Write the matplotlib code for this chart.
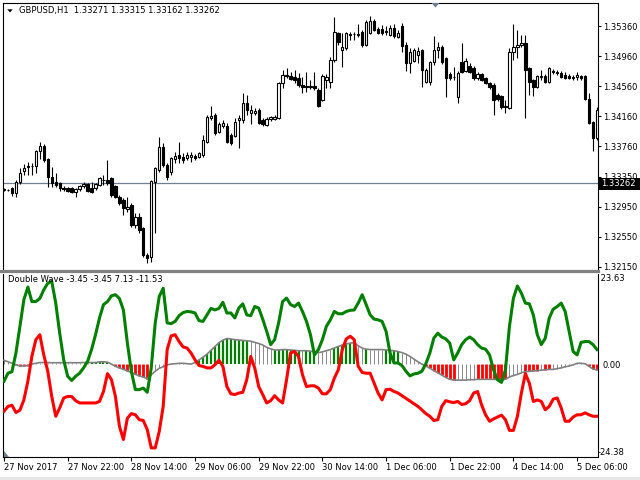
import matplotlib
matplotlib.use('Agg')
import matplotlib.pyplot as plt
from matplotlib.patches import Polygon, Rectangle
from matplotlib.lines import Line2D
import numpy as np

plt.rcParams['font.family'] = ['DejaVu Sans']

# ---------------- data ----------------
symbol_title = "GBPUSD,H1  1.33271 1.33315 1.33162 1.33262"
ind_title = "Double Wave -3.45 -3.45 7.13 -11.53"
last_price = 1.33262
ind_max, ind_min = 23.63, -24.38

opens = [
    1.3318, 1.3318, 1.3320, 1.3314, 1.3328, 1.3343, 1.3348, 1.3350, 1.3350, 1.3370,
    1.3376, 1.3359, 1.3335, 1.3328, 1.3327, 1.3320, 1.3320, 1.3320, 1.3315, 1.3319,
    1.3323, 1.3326, 1.3320, 1.3320, 1.3324, 1.3331, 1.3331, 1.3334, 1.3323, 1.3308,
    1.3304, 1.3292, 1.3298, 1.3271, 1.3282, 1.3267, 1.3231, 1.3228, 1.3328, 1.3344,
    1.3375, 1.3351, 1.3342, 1.3359, 1.3364, 1.3362, 1.3360, 1.3362, 1.3363, 1.3362,
    1.3364, 1.3382, 1.3414, 1.3418, 1.3395, 1.3403, 1.3403, 1.3391, 1.3390, 1.3411,
    1.3411, 1.3434, 1.3420, 1.3420, 1.3424, 1.3411, 1.3404, 1.3412, 1.3412, 1.3414,
    1.3460, 1.3471, 1.3470, 1.3468, 1.3467, 1.3458, 1.3456, 1.3455, 1.3456, 1.3451,
    1.3438, 1.3464, 1.3462, 1.3491, 1.3527, 1.3504, 1.3507, 1.3524, 1.3526, 1.3526,
    1.3528, 1.3511, 1.3527, 1.3543, 1.3532, 1.3532, 1.3528, 1.3524, 1.3534, 1.3522,
    1.3536, 1.3511, 1.3487, 1.3490, 1.3498, 1.3504, 1.3462, 1.3462, 1.3488, 1.3504,
    1.3508, 1.3494, 1.3472, 1.3468, 1.3442, 1.3488, 1.3476, 1.3483, 1.3480, 1.3467,
    1.3472, 1.3467, 1.3460, 1.3458, 1.3444, 1.3443, 1.3428, 1.3427, 1.3502, 1.3508,
    1.3511, 1.3514, 1.3480, 1.3464, 1.3455, 1.3468, 1.3470, 1.3462, 1.3476, 1.3475,
    1.3474, 1.3471, 1.3470, 1.3467, 1.3468, 1.3470, 1.3470, 1.3439, 1.3408, 1.3387]

highs = [
    1.3320, 1.3319, 1.3322, 1.3331, 1.3347, 1.3352, 1.3355, 1.3354, 1.3371, 1.3382,
    1.3379, 1.3360, 1.3348, 1.3340, 1.3328, 1.3323, 1.3322, 1.3322, 1.3320, 1.3324,
    1.3328, 1.3327, 1.3328, 1.3327, 1.3335, 1.3338, 1.3358, 1.3335, 1.3324, 1.3311,
    1.3307, 1.3308, 1.3300, 1.3287, 1.3287, 1.3268, 1.3234, 1.3331, 1.3348, 1.3388,
    1.3380, 1.3354, 1.3362, 1.3368, 1.3382, 1.3367, 1.3368, 1.3368, 1.3366, 1.3368,
    1.3391, 1.3418, 1.3430, 1.3420, 1.3408, 1.3411, 1.3407, 1.3394, 1.3414, 1.3418,
    1.3447, 1.3444, 1.3431, 1.3427, 1.3427, 1.3414, 1.3415, 1.3416, 1.3418, 1.3462,
    1.3478, 1.3480, 1.3475, 1.3478, 1.3474, 1.3468, 1.3475, 1.3464, 1.3475, 1.3454,
    1.3472, 1.3472, 1.3495, 1.3548, 1.3528, 1.3527, 1.3528, 1.3528, 1.3528, 1.3539,
    1.3531, 1.3544, 1.3550, 1.3546, 1.3535, 1.3538, 1.3536, 1.3538, 1.3539, 1.3531,
    1.3540, 1.3515, 1.3507, 1.3507, 1.3508, 1.3506, 1.3480, 1.3490, 1.3523, 1.3515,
    1.3511, 1.3495, 1.3475, 1.3482, 1.3476, 1.3514, 1.3494, 1.3487, 1.3483, 1.3475,
    1.3474, 1.3468, 1.3462, 1.3460, 1.3447, 1.3444, 1.3438, 1.3507, 1.3539, 1.3531,
    1.3524, 1.3524, 1.3482, 1.3466, 1.3471, 1.3478, 1.3472, 1.3482, 1.3479, 1.3478,
    1.3476, 1.3475, 1.3472, 1.3471, 1.3475, 1.3471, 1.3471, 1.3447, 1.3410, 1.3428]

lows = [
    1.3316, 1.3316, 1.3310, 1.3308, 1.3326, 1.3338, 1.3338, 1.3338, 1.3340, 1.3359,
    1.3355, 1.3322, 1.3322, 1.3322, 1.3316, 1.3316, 1.3315, 1.3314, 1.3308, 1.3316,
    1.3320, 1.3315, 1.3314, 1.3318, 1.3323, 1.3324, 1.3324, 1.3308, 1.3307, 1.3298,
    1.3284, 1.3288, 1.3268, 1.3267, 1.3260, 1.3228, 1.3220, 1.3222, 1.3260, 1.3342,
    1.3348, 1.3331, 1.3338, 1.3354, 1.3354, 1.3354, 1.3358, 1.3355, 1.3358, 1.3360,
    1.3362, 1.3380, 1.3411, 1.3391, 1.3394, 1.3400, 1.3380, 1.3378, 1.3388, 1.3374,
    1.3407, 1.3418, 1.3406, 1.3418, 1.3406, 1.3403, 1.3403, 1.3410, 1.3411, 1.3412,
    1.3454, 1.3467, 1.3464, 1.3460, 1.3455, 1.3447, 1.3448, 1.3452, 1.3451, 1.3428,
    1.3436, 1.3454, 1.3454, 1.3488, 1.3511, 1.3482, 1.3504, 1.3518, 1.3518, 1.3522,
    1.3508, 1.3510, 1.3526, 1.3530, 1.3526, 1.3524, 1.3524, 1.3523, 1.3520, 1.3520,
    1.3502, 1.3476, 1.3474, 1.3488, 1.3487, 1.3455, 1.3460, 1.3458, 1.3484, 1.3494,
    1.3486, 1.3442, 1.3464, 1.3464, 1.3434, 1.3474, 1.3475, 1.3474, 1.3464, 1.3464,
    1.3463, 1.3459, 1.3452, 1.3418, 1.3436, 1.3426, 1.3420, 1.3426, 1.3491, 1.3494,
    1.3508, 1.3414, 1.3444, 1.3443, 1.3454, 1.3464, 1.3460, 1.3460, 1.3472, 1.3471,
    1.3467, 1.3466, 1.3466, 1.3464, 1.3464, 1.3464, 1.3438, 1.3406, 1.3369, 1.3384]

closes = [
    1.3319, 1.3318, 1.3314, 1.3328, 1.3340, 1.3347, 1.3350, 1.3350, 1.3370, 1.3376,
    1.3358, 1.3335, 1.3327, 1.3324, 1.3320, 1.3319, 1.3316, 1.3315, 1.3319, 1.3323,
    1.3326, 1.3316, 1.3315, 1.3326, 1.3334, 1.3331, 1.3327, 1.3311, 1.3308, 1.3300,
    1.3294, 1.3295, 1.3271, 1.3282, 1.3264, 1.3231, 1.3227, 1.3330, 1.3347, 1.3375,
    1.3351, 1.3335, 1.3360, 1.3363, 1.3360, 1.3358, 1.3364, 1.3364, 1.3360, 1.3367,
    1.3384, 1.3415, 1.3416, 1.3394, 1.3406, 1.3407, 1.3382, 1.3380, 1.3408, 1.3414,
    1.3434, 1.3424, 1.3424, 1.3423, 1.3407, 1.3406, 1.3412, 1.3415, 1.3415, 1.3460,
    1.3471, 1.3470, 1.3466, 1.3464, 1.3458, 1.3455, 1.3455, 1.3456, 1.3454, 1.3430,
    1.3470, 1.3468, 1.3491, 1.3528, 1.3515, 1.3508, 1.3527, 1.3526, 1.3526, 1.3524,
    1.3511, 1.3542, 1.3543, 1.3531, 1.3527, 1.3527, 1.3530, 1.3534, 1.3523, 1.3527,
    1.3510, 1.3487, 1.3502, 1.3504, 1.3503, 1.3478, 1.3478, 1.3488, 1.3504, 1.3508,
    1.3488, 1.3467, 1.3467, 1.3468, 1.3474, 1.3475, 1.3490, 1.3475, 1.3467, 1.3472,
    1.3464, 1.3460, 1.3455, 1.3438, 1.3439, 1.3428, 1.3430, 1.3502, 1.3508, 1.3511,
    1.3514, 1.3478, 1.3462, 1.3455, 1.3470, 1.3470, 1.3462, 1.3480, 1.3475, 1.3474,
    1.3468, 1.3467, 1.3467, 1.3468, 1.3471, 1.3467, 1.3439, 1.3407, 1.3387, 1.3424]

green_wave = [
    -4.5, -2.4, -2.0, 2.9, 9.9, 16.9, 20.2, 16.4, 16.4, 17.2,
    19.5, 21.2, 21.7, 16.0, 8.1, 1.1, -3.2, -4.3, -3.2, -2.4,
    -1.0, 0.7, 3.8, 7.7, 12.1, 15.6, 16.4, 17.9, 18.2, 17.2,
    14.2, 5.5, -1.9, -6.7, -6.7, -6.3, -7.4, -1.0, 10.8, 17.7,
    19.9, 10.8, 10.6, 11.2, 12.7, 13.5, 13.8, 13.7, 13.4, 11.4,
    11.2, 12.9, 14.6, 14.2, 14.6, 16.2, 13.4, 13.4, 12.1, 14.7,
    15.8, 12.9, 12.7, 15.1, 14.7, 11.8, 8.6, 5.1, 6.4, 10.8,
    16.4, 17.3, 15.6, 15.1, 16.0, 13.8, 11.2, 7.7, 2.4, 3.8,
    6.4, 9.9, 11.6, 13.8, 13.2, 13.2, 13.8, 14.1, 14.2, 16.0,
    18.2, 15.6, 12.9, 11.8, 11.6, 11.2, 8.6, 2.9, 0.3, 0.3,
    -0.4, -1.9, -3.1, -2.6, -2.4, -1.9, 0.1, 2.9, 6.8, 8.1,
    7.1, 6.6, 5.5, 1.1, 2.9, 5.1, 6.4, 7.1, 6.4, 5.1,
    4.2, 3.9, 2.4, -1.5, -4.1, -4.8, -1.5, 9.9, 17.3, 20.5,
    18.6, 16.0, 15.8, 12.9, 7.7, 5.1, 6.8, 12.1, 14.4, 15.1,
    16.0, 13.8, 8.6, 3.3, 2.4, 5.7, 5.9, 5.9, 5.1, 3.8]

red_wave = [
    -12.4, -11.1, -10.8, -12.7, -12.1, -9.4, -4.5, 2.0, 6.4, 7.7,
    2.4, -1.9, -8.5, -13.7, -11.5, -8.9, -8.5, -8.5, -9.6, -10.2,
    -10.2, -10.2, -10.2, -10.2, -9.8, -7.2, -2.5, -4.1, -8.5, -16.3,
    -19.8, -14.2, -13.0, -13.3, -14.6, -14.8, -17.2, -22.0, -22.0, -17.7,
    -11.1, 3.8, 7.4, 7.7, 5.9, 4.5, 4.2, 2.9, 1.1, -0.4,
    -0.6, -1.0, -1.0, -0.2, 1.0, -0.6, -5.9, -7.8, -8.0, -7.6,
    -7.4, -4.1, 2.0, -1.0, -5.9, -8.0, -10.2, -9.6, -8.3, -9.4,
    -10.2, -4.1, 2.9, 3.3, 2.0, -2.8, -5.9, -5.7, -5.7, -6.3,
    -7.8, -7.8, -6.7, -3.7, -1.5, 3.8, 6.6, 7.3, 6.4, -0.6,
    -2.2, -2.4, -2.4, -5.0, -7.6, -9.4, -6.7, -6.6, -7.2, -7.6,
    -8.3, -9.0, -9.7, -10.4, -11.1, -12.0, -13.0, -13.7, -14.8, -14.6,
    -11.1, -9.6, -9.9, -10.1, -9.8, -10.6, -10.4, -9.6, -7.6, -7.2,
    -10.7, -13.3, -15.0, -14.4, -13.9, -13.4, -14.6, -17.4, -17.4, -13.7,
    -7.6, -2.5, -5.0, -9.8, -9.4, -9.8, -12.0, -11.1, -9.2, -8.9,
    -11.5, -15.0, -15.0, -13.9, -13.3, -13.3, -12.8, -13.3, -13.7, -13.7]

signal = [
    1.0, 0.6, 0.2, -0.2, -0.5, -0.5, -0.4, 0.0, 0.2, 0.4,
    0.4, 0.4, 0.35, 0.35, 0.35, 0.35, 0.35, 0.35, 0.35, 0.35,
    0.4, 0.4, 0.4, 0.4, 0.6, 0.6, 0.5, 0.0, -0.6, -1.0,
    -1.4, -1.8, -2.2, -2.7, -3.1, -3.4, -3.9, -2.8, -1.9, -1.1,
    -0.7, -0.2, 0.0, 0.1, 0.2, 0.2, 0.1, 0.0, 0.4, 1.1,
    1.8, 2.6, 3.6, 4.6, 5.6, 6.3, 6.7, 6.6, 6.4, 6.3,
    6.2, 6.1, 6.0, 5.7, 5.4, 5.0, 4.4, 4.0, 3.7, 3.7,
    3.8, 3.8, 3.7, 3.6, 3.5, 3.5, 3.5, 3.4, 3.2, 3.0,
    3.2, 3.5, 3.8, 4.2, 4.6, 5.0, 5.3, 5.5, 5.6, 4.8,
    4.2, 3.9, 3.8, 3.8, 3.8, 3.8, 3.7, 3.6, 3.5, 3.3,
    3.0, 2.6, 2.0, 1.3, 0.6, 0.0, -0.5, -1.1, -1.7, -2.3,
    -2.9, -3.5, -4.0, -4.2, -4.2, -4.2, -4.2, -4.1, -4.1, -4.0,
    -4.0, -4.0, -4.0, -4.0, -4.1, -4.2, -4.0, -3.4, -3.0, -2.7,
    -2.3, -2.0, -1.9, -1.8, -1.7, -1.6, -1.5, -1.4, -1.4, -1.2,
    -1.0, -0.7, -0.5, -0.2, 0.2, 0.2, 0.1, -0.6, -1.3, -1.5]

# histogram colour state per bar: n = neutral, g = up, r = down (runs)
hist_runs = [('n', 3), ('r', 5), ('n', 14), ('g', 5), ('n', 1), ('r', 9),
             ('n', 12), ('g', 13), ('n', 6), ('g', 7), ('n', 1), ('g', 3),
             ('n', 4), ('g', 6), ('n', 2), ('g', 1), ('n', 4), ('g', 4),
             ('n', 5), ('r', 9), ('n', 5), ('r', 8), ('n', 4), ('r', 4),
             ('n', 1), ('r', 2), ('n', 9), ('r', 3)]

time_ticks = [0, 16, 32, 48, 64, 80, 96, 112, 128, 144]
time_labels = ["27 Nov 2017", "27 Nov 22:00", "28 Nov 14:00", "29 Nov 06:00",
               "29 Nov 22:00", "30 Nov 14:00", "1 Dec 06:00", "1 Dec 22:00",
               "4 Dec 14:00", "5 Dec 06:00"]
price_ticks = [1.35360, 1.34960, 1.34560, 1.34160, 1.33760, 1.33350,
               1.32950, 1.32550, 1.32150]

# ---------------- layout ----------------
W, H = 640, 480
fig = plt.figure(figsize=(6.4, 4.8), dpi=100)
fig.patch.set_facecolor('white')


def fx(px):
    return px / W


def fy(py):
    return 1 - py / H


ax1 = fig.add_axes([fx(3), fy(269), (598 - 3) / W, (269 - 3) / H])
ax2 = fig.add_axes([fx(3), fy(457), (598 - 3) / W, (457 - 274) / H])

n = len(opens)
x = np.arange(n)
o = np.array(opens); c = np.array(closes)
h = np.array(highs); l = np.array(lows)
xlim = (-0.25, 149.25)

# ---------------- price panel ----------------
up = c >= o
ax1.vlines(x, l, h, color='black', lw=0.8, zorder=2)
bb = np.minimum(o, c)
bh = np.abs(c - o)
ax1.bar(x[up], bh[up], bottom=bb[up], width=0.6, facecolor='white',
        edgecolor='black', linewidth=0.8, zorder=3)
ax1.bar(x[~up], bh[~up], bottom=bb[~up], width=0.6, facecolor='black',
        edgecolor='black', linewidth=0.8, zorder=3)
ax1.axhline(last_price, color='#6e7f91', lw=0.9, zorder=1)

ax1.set_xlim(*xlim)
ax1.set_ylim(1.32120, 1.35667)
ax1.set_xticks([])
ax1.yaxis.tick_right()
ax1.set_yticks(price_ticks)
ax1.set_yticklabels([f"{p:.5f}" for p in price_ticks])
ax1.tick_params(axis='y', length=2.2, width=0.8, pad=1.5, labelsize=6,
                colors='black')
for s in ['left', 'top', 'right']:
    ax1.spines[s].set_color('black')
    ax1.spines[s].set_linewidth(0.8)
ax1.spines['bottom'].set_visible(False)

# ---------------- indicator panel ----------------
states = ''.join(k * m for k, m in hist_runs)
sig = np.array(signal)
mask_g = np.array([s == 'g' for s in states])
mask_r = np.array([s == 'r' for s in states])
mask_n = np.array([s == 'n' for s in states])
ax2.vlines(x[mask_n], 0, sig[mask_n], color='#8a8a8a', lw=0.7, zorder=2)
ax2.vlines(x[mask_g], 0, sig[mask_g], color='#008000', lw=1.6, zorder=2)
ax2.vlines(x[mask_r], 0, sig[mask_r], color='#ff0000', lw=2.0, zorder=2)
ax2.plot(x, sig, color='#808080', lw=1.2, zorder=3)
ax2.plot(x, green_wave, color='#008000', lw=2.2, zorder=4,
         solid_joinstyle='round')
ax2.plot(x, red_wave, color='#ff0000', lw=2.2, zorder=5,
         solid_joinstyle='round')

ax2.set_xlim(*xlim)
ax2.set_ylim(ind_min, ind_max)
ax2.yaxis.tick_right()
ax2.set_yticks([0])
ax2.set_yticklabels(['0.00'])
ax2.tick_params(axis='y', length=0, pad=3.0, labelsize=6, colors='black')
ax2.set_xticks(time_ticks)
ax2.set_xticklabels(time_labels, ha='left')
ax2.tick_params(axis='x', length=2.9, width=0.8, pad=1.5, labelsize=6,
                colors='black')
for s in ['left', 'bottom', 'right']:
    ax2.spines[s].set_color('black')
    ax2.spines[s].set_linewidth(0.8)
ax2.spines['top'].set_visible(False)

ax2.text(1.0, 1.0, f" {ind_max:.2f}", transform=ax2.transAxes,
         ha='left', va='top', fontsize=6)
ax2.text(1.0, 0.0, f"{ind_min:.2f}", transform=ax2.transAxes,
         ha='left', va='bottom', fontsize=6)

# ---------------- decorations ----------------
# separator between panels
fig.add_artist(Line2D([fx(0), fx(598)], [fy(271), fy(271)], color='#808080',
                      lw=2.3, transform=fig.transFigure))
# bottom strip
fig.add_artist(Rectangle((0, 0), 1, 3 / H, transform=fig.transFigure,
                         facecolor='#e6e6e6', edgecolor='none'))
# current price label
fig.add_artist(Rectangle((fx(599), fy(190)), 41 / W, 12 / H,
                         transform=fig.transFigure, facecolor='black',
                         edgecolor='none'))
fig.text(fx(601), fy(184), f"{last_price:.5f}", color='white', fontsize=6,
         ha='left', va='center')
# titles
fig.add_artist(Polygon([[fx(7.3), fy(9.3)], [fx(12.7), fy(9.3)],
                        [fx(10), fy(12.5)]], closed=True,
                       transform=fig.transFigure, facecolor='black',
                       edgecolor='none'))
fig.text(fx(19), fy(10.8), symbol_title, fontsize=6, ha='left', va='center')
fig.text(fx(8), fy(280), ind_title, fontsize=6, ha='left', va='center')
# shift markers
fig.add_artist(Polygon([[fx(431.5), fy(3)], [fx(439.5), fy(3)],
                        [fx(435.5), fy(7.5)]], closed=True,
                       transform=fig.transFigure, facecolor='#6e7f91',
                       edgecolor='none'))
fig.add_artist(Polygon([[fx(3.5), fy(451)], [fx(3.5), fy(456.5)],
                        [fx(9), fy(456.5)]], closed=True,
                       transform=fig.transFigure, facecolor='#6e7f91',
                       edgecolor='none'))

fig.savefig('out.png', dpi=100, facecolor='white')
